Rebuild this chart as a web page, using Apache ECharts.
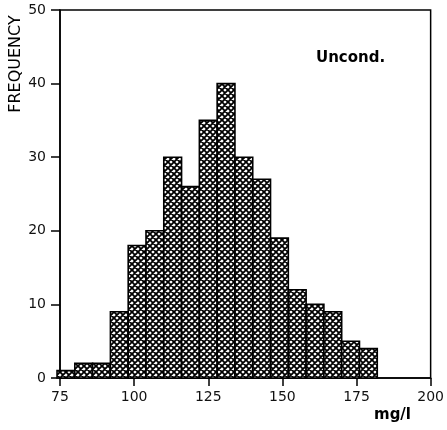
<!DOCTYPE html>
<html>
<head>
<meta charset="utf-8">
<script src="https://cdn.jsdelivr.net/npm/echarts@6/dist/echarts.min.js"></script>
<style>html,body{margin:0;padding:0;background:#fff}#c{width:447px;height:430px}</style>
</head>
<body>
<div id="c"></div>
<script>
// Data
const binLower = [74, 80, 86, 92, 98, 104, 110, 116, 122, 128, 134, 140, 146, 152, 158, 164, 170, 176];
const binWidth = 6;
const frequency = [1, 2, 2, 9, 18, 20, 30, 26, 35, 40, 30, 27, 19, 12, 10, 9, 5, 4];
const xTicks = [75, 100, 125, 150, 175, 200];
const yTicks = [0, 10, 20, 30, 40, 50];

// cross-hatch pattern
const tile = document.createElement('canvas');
tile.width = 6; tile.height = 6;
const g = tile.getContext('2d');
g.fillStyle = '#fff'; g.fillRect(0, 0, 6, 6);
g.strokeStyle = '#000'; g.lineWidth = 1.8;
g.beginPath();
g.moveTo(-1, -1); g.lineTo(7, 7);
g.moveTo(7, -1); g.lineTo(-1, 7);
g.moveTo(-4, 2); g.lineTo(2, 8);
g.moveTo(4, -2); g.lineTo(10, 4);
g.moveTo(2, -2); g.lineTo(-4, 4);
g.moveTo(10, 2); g.lineTo(4, 8);
g.stroke();

const data = binLower.map((lo, i) => [lo, lo + binWidth, frequency[i]]);
const font = '"DejaVu Sans", sans-serif';

const chart = echarts.init(document.getElementById('c'), null, {renderer: 'canvas'});
chart.setOption({
  animation: false,
  backgroundColor: '#fff',
  grid: {left: 60, right: 13, top: 10, bottom: 52, show: true, borderColor: '#000', borderWidth: 1.5, backgroundColor: 'transparent'},
  xAxis: {
    type: 'value', min: xTicks[0], max: xTicks[xTicks.length - 1], interval: 25,
    axisLine: {show: true, onZero: false, lineStyle: {color: '#000', width: 1.5}},
    axisTick: {show: true, length: 8, lineStyle: {color: '#000', width: 1.5}},
    axisLabel: {color: '#111', fontSize: 14, fontFamily: font, margin: 12},
    splitLine: {show: false}
  },
  yAxis: {
    type: 'value', min: yTicks[0], max: yTicks[yTicks.length - 1], interval: 10,
    axisLine: {show: true, lineStyle: {color: '#000', width: 1.5}},
    axisTick: {show: true, length: 9, lineStyle: {color: '#000', width: 1.5}},
    axisLabel: {color: '#111', fontSize: 14, fontFamily: font, margin: 14},
    splitLine: {show: false}
  },
  series: [{
    type: 'custom',
    clip: false,
    data: data,
    renderItem: function (params, api) {
      const p0 = api.coord([api.value(0), 0]);
      const p1 = api.coord([api.value(1), api.value(2)]);
      return {
        type: 'rect',
        shape: {x: p0[0], y: p1[1], width: p1[0] - p0[0], height: p0[1] - p1[1]},
        style: {fill: {image: tile, repeat: 'repeat'}, stroke: '#000', lineWidth: 1.6}
      };
    }
  }],
  graphic: [
    {type: 'text', left: 316, top: 51, style: {text: 'Uncond.', font: 'bold 15px ' + font, fill: '#000'}},
    {type: 'text', left: 374, top: 408, style: {text: 'mg/l', font: 'bold 15px ' + font, fill: '#000'}},
    {type: 'text', x: 16, y: 64, rotation: Math.PI / 2, style: {text: 'FREQUENCY', font: '16px ' + font, fill: '#000', align: 'center', verticalAlign: 'middle'}}
  ]
});
</script>
</body>
</html>
